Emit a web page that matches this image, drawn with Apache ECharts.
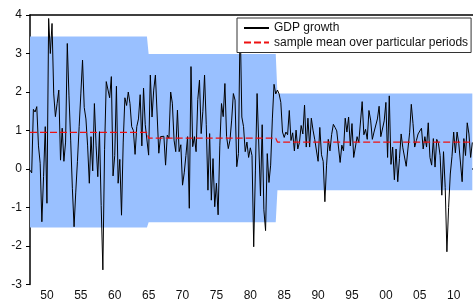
<!DOCTYPE html>
<html><head><meta charset="utf-8">
<script src="https://cdn.jsdelivr.net/npm/echarts@6/dist/echarts.min.js"></script>
<style>html,body{margin:0;padding:0;background:#fff}#c{width:473px;height:306px}</style>
</head><body><div id="c"></div>
<script>
// quarterly GDP growth, %, starting 1947Q2
const startYear = 1947, startQuarter = 2;
const gdpGrowth = [
  -0.03, -0.10, 1.55,
  1.48, 1.62, 0.60, 0.15,
  -1.37, -0.20, 1.10, -0.89,
  3.91, 3.00, 3.78, 1.95,
  1.36, 1.70, 2.05, 0.23,
  1.06, 0.20, 0.70, 3.26,
  1.90, 0.75, -0.50, -1.50,
  -0.60, 0.20, 1.10, 1.95,
  2.83, 1.60, 1.30, 0.60,
  -0.37, 0.84, -0.05, 1.70,
  0.60, -0.20, 0.97, -0.95,
  -2.62, 0.50, 2.27, 2.30,
  1.85, 2.40, -0.18, 0.35,
  2.15, -0.37, 0.25, -1.20,
  0.70, 1.85, 1.65, 2.00,
  1.70, 1.10, 1.00, 0.38,
  1.10, 1.30, 1.93, 0.60,
  2.10, 1.15, 1.20, 0.36,
  2.44, 1.35, 2.05, 2.44,
  2.44, 0.41, 0.84, 0.88,
  0.85, 0.10, 0.88, 0.80,
  2.00, 1.71, 0.75, 0.45,
  1.53, 0.45, 0.63, -0.42,
  -0.10, 0.35, 0.84, -1.02,
  2.66, 0.58, 0.84, 0.45,
  1.80, 2.31, 0.92, 1.50,
  2.44, 1.15, -0.55, 0.92,
  -0.81, 0.27, -0.98, -0.37,
  -1.19, 0.60, 1.70, 1.36,
  2.22, 0.84, 0.53, 0.75,
  1.27, 1.96, 1.79, 0.06,
  0.40, 3.90, 1.35, 1.10,
  0.45, 0.70, 0.30, 0.55,
  0.35, -2.02, -0.05, 1.96,
  2.00, -0.70, 1.15, -1.06,
  -1.60, 0.40, -0.35, 0.10,
  1.30, 2.20, 1.95, 2.05,
  1.95, 1.73, 0.96, 0.82,
  0.96, 0.89, 1.52, 0.74,
  0.94, 0.47, 1.01, 0.52,
  0.69, 1.13, 0.91, 1.66,
  0.57, 1.32, 0.57, 1.32,
  1.01, 0.77, 0.74, 0.20,
  1.08, 0.37, 0.20, -0.85,
  0.10, 0.77, 0.47, 0.90,
  1.16, 1.08, 0.99, 1.03,
  0.17, 0.62, 0.47, 1.32,
  0.96, 1.35, 0.60, 1.18,
  0.30, 0.32, 0.84, 0.69,
  0.67, 1.75, 0.89, 1.03,
  0.77, 1.52, 1.27, 0.77,
  0.96, 0.94, 1.30, 1.63,
  0.84, 0.89, 1.25, 1.73,
  0.30, 1.90, 0.12, 0.57,
  -0.28, 0.52, -0.33, 0.27,
  0.91, 0.55, 0.50, 0.07,
  0.52, 0.94, 1.68, 1.18,
  0.57, 0.74, 0.91, 0.86,
  1.06, 0.52, 0.84, 0.57,
  1.20, 0.30, 0.10, 0.79,
  0.05, 0.77, 0.67, 0.35,
  -0.68, 0.45, -0.48, -2.15,
  -1.00, -0.13, 0.33, 0.96,
  0.42, 0.96, 0.67, 0.62,
  -0.33, 0.79, 0.35, 1.20,
  0.91, 0.30, 0.69
];
// sub-periods
const periodStart = ['1947Q2', '1964Q4', '1983Q4'];
const periodEnd   = ['1964Q3', '1983Q3', '2012Q3'];
const periodMean  = [0.95, 0.80, 0.70];
const periodUpper = [3.44, 2.99, 1.96];
const periodLower = [-1.52, -1.38, -0.55];
// axes
const yTicks = [-3, -2, -1, 0, 1, 2, 3, 4];
const xLabelYears = [1950, 1955, 1960, 1965, 1970, 1975, 1980, 1985, 1990, 1995, 2000, 2005, 2010];
const xMin = 1947.5, xMax = 2012.85;

function qToT(s) { return +s.slice(0, 4) + (+s.slice(5)) / 4; }
const dates = gdpGrowth.map((_, i) => {
  const n = startQuarter - 1 + i;
  return startYear + Math.floor(n / 4) + ((n % 4) + 1) / 4;
});
const gdpData = gdpGrowth.map((v, i) => [dates[i], v]);
const meanData = [], upperPts = [], lowerPts = [];
periodStart.forEach((s, p) => {
  const a = qToT(s), b = qToT(periodEnd[p]);
  meanData.push([a, periodMean[p]], [b, periodMean[p]]);
  upperPts.push([a, periodUpper[p]], [b, periodUpper[p]]);
  lowerPts.push([a, periodLower[p]], [b, periodLower[p]]);
});
const xTickYears = [];
for (let y = Math.ceil(xMin); y <= xMax; y++) xTickYears.push(y);

const font = 'Liberation Sans, Arial, Helvetica, sans-serif';
const chart = echarts.init(document.getElementById('c'));
chart.setOption({
  animation: false,
  backgroundColor: '#fff',
  grid: { left: 30, right: 0, top: 15, bottom: 21.5 },
  legend: {
    orient: 'vertical', left: 237, top: 18,
    data: ['GDP growth', 'sample mean over particular periods'],
    backgroundColor: '#fff', borderColor: '#333', borderWidth: 1,
    padding: [3, 3, 3, 6], itemWidth: 25, itemHeight: 14, itemGap: 0.5,
    selectedMode: false,
    itemStyle: { opacity: 0, borderWidth: 0 },
    textStyle: { fontFamily: font, fontSize: 12, color: '#111', lineHeight: 14 }
  },
  xAxis: [{
    type: 'value', min: xMin, max: xMax, position: 'bottom',
    splitLine: { show: false },
    axisLine: { lineStyle: { color: '#000', width: 1.5 } },
    axisTick: { customValues: xTickYears, length: 4, lineStyle: { color: '#000' } },
    axisLabel: {
      customValues: xLabelYears, margin: 5, color: '#111', fontFamily: font, fontSize: 12,
      formatter: v => String(Math.round(v) % 100).padStart(2, '0')
    }
  }, {
    type: 'value', min: xMin, max: xMax, position: 'top',
    splitLine: { show: false }, axisTick: { show: false }, axisLabel: { show: false },
    axisLine: { lineStyle: { color: '#000', width: 1.5 } }
  }],
  yAxis: {
    type: 'value', min: -3, max: 4, interval: 1,
    splitLine: { show: false },
    axisLine: { show: true, lineStyle: { color: '#000', width: 1.5 } },
    axisTick: { show: true, length: 4, lineStyle: { color: '#000' } },
    axisLabel: { margin: 8, color: '#111', fontFamily: font, fontSize: 12,
      formatter: v => yTicks.includes(v) ? String(v) : '' }
  },
  series: [{
    type: 'custom', name: 'band', silent: true, z: 1,
    data: [[1980, 0]],
    renderItem: (params, api) => {
      const pts = upperPts.map(p => api.coord(p));
      for (let i = lowerPts.length - 1; i >= 0; i--) pts.push(api.coord(lowerPts[i]));
      return { type: 'polygon', shape: { points: pts }, style: { fill: '#99c0ff' } };
    }
  }, {
    type: 'line', name: 'GDP growth', data: gdpData, symbol: 'none', z: 3,
    lineStyle: { color: '#000', width: 1 }, itemStyle: { color: '#000' }
  }, {
    type: 'line', name: 'sample mean over particular periods', data: meanData, symbol: 'none', z: 4,
    lineStyle: { color: '#ee1111', width: 1.2, type: [7, 3] }, itemStyle: { color: '#ee1111' }
  }]
});
</script></body></html>
